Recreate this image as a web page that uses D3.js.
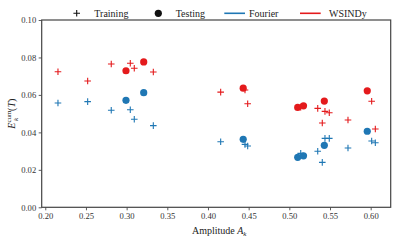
<!DOCTYPE html>
<html><head><meta charset="utf-8">
<script src="https://cdn.jsdelivr.net/npm/d3@7"></script>
<style>body{margin:0;background:#fff}svg{display:block}</style>
</head><body><svg id="c" width="397" height="240"></svg>
<script>
const trainA = [0.2156,0.2521,0.2811,0.3045,0.3094,0.3328,0.4156,0.4455,0.4488,0.5140,0.5349,0.5405,0.5438,0.5491,0.5721,0.6012,0.6057];
const trainWSINDy = [0.0724,0.0674,0.0765,0.0769,0.0742,0.0722,0.0615,0.0626,0.0553,0.0535,0.0528,0.0450,0.0512,0.0505,0.0466,0.0566,0.0418];
const trainFourier = [0.0557,0.0564,0.0518,0.0521,0.0470,0.0436,0.0350,0.0336,0.0327,0.0288,0.0299,0.0240,0.0368,0.0368,0.0317,0.0354,0.0345];
const testA = [0.2992,0.3210,0.4433,0.5103,0.5174,0.5430,0.5958];
const testWSINDy = [0.0729,0.0776,0.0636,0.0533,0.0542,0.0567,0.0622];
const testFourier = [0.0571,0.0612,0.0363,0.0267,0.0275,0.0331,0.0406];
const xTicks = [0.20,0.25,0.30,0.35,0.40,0.45,0.50,0.55,0.60];
const yTicks = [0.00,0.02,0.04,0.06,0.08,0.10];
const colFourier = "#1f77b4", colWSINDy = "#e41a1c";
const FONT = "Liberation Serif";

const svg = d3.select("#c");
const L = 41.7, R = 390.7, T = 20, B = 207.3;
const x = d3.scaleLinear().domain([0.1956, 0.6246]).range([L, R]);
const y = d3.scaleLinear().domain([0, 0.1]).range([B, T]);

const gx = svg.append("g").attr("transform", `translate(0,${B})`)
  .call(d3.axisBottom(x).tickValues(xTicks).tickFormat(d3.format(".2f")).tickSize(3).tickPadding(2.5));
const gy = svg.append("g").attr("transform", `translate(${L},0)`)
  .call(d3.axisLeft(y).tickValues(yTicks).tickFormat(d3.format(".2f")).tickSize(3).tickPadding(2.5));
[gx, gy].forEach(g => {
  g.attr("font-family", FONT);
  g.select(".domain").remove();
  g.selectAll("line").attr("stroke", "#333").attr("stroke-width", 0.8);
  g.selectAll("text").attr("font-size", 8.6).attr("font-family", FONT).attr("fill", "#333");
});
svg.append("rect").attr("x", L).attr("y", T).attr("width", R - L).attr("height", B - T)
  .attr("fill", "none").attr("stroke", "#444").attr("stroke-width", 1.2);

function plus(g, data, color) {
  const s = 3.3;
  g.selectAll(null).data(data).enter().append("path")
    .attr("d", d => `M${x(d[0]) - s},${y(d[1])}H${x(d[0]) + s}M${x(d[0])},${y(d[1]) - s}V${y(d[1]) + s}`)
    .attr("stroke", color).attr("stroke-width", 1.1).attr("fill", "none");
}
function dots(g, data, color) {
  g.selectAll(null).data(data).enter().append("circle")
    .attr("cx", d => x(d[0])).attr("cy", d => y(d[1])).attr("r", 3.6).attr("fill", color);
}
const pg = svg.append("g");
plus(pg, trainA.map((a, i) => [a, trainFourier[i]]), colFourier);
plus(pg, trainA.map((a, i) => [a, trainWSINDy[i]]), colWSINDy);
dots(pg, testA.map((a, i) => [a, testFourier[i]]), colFourier);
dots(pg, testA.map((a, i) => [a, testWSINDy[i]]), colWSINDy);

function txt(g, size) { return g.append("text").attr("font-family", FONT).attr("font-size", size).attr("fill", "#222"); }

// legend
const lg = svg.append("g");
const ly = 13.3;
lg.append("path").attr("d", `M${76.7-3.3},${ly}H${76.7+3.3}M76.7,${ly-3.3}V${ly+3.3}`).attr("stroke", "#111").attr("stroke-width", 1.1);
txt(lg, 10).attr("x", 94.3).attr("y", ly + 3.4).text("Training");
lg.append("circle").attr("cx", 158.3).attr("cy", ly).attr("r", 3.6).attr("fill", "#111");
txt(lg, 10).attr("x", 175.7).attr("y", ly + 3.4).text("Testing");
lg.append("line").attr("x1", 224.3).attr("x2", 245).attr("y1", ly).attr("y2", ly).attr("stroke", colFourier).attr("stroke-width", 1.6);
txt(lg, 10).attr("x", 249).attr("y", ly + 3.4).text("Fourier");
lg.append("line").attr("x1", 300).attr("x2", 320.7).attr("y1", ly).attr("y2", ly).attr("stroke", colWSINDy).attr("stroke-width", 1.6);
txt(lg, 10).attr("x", 329).attr("y", ly + 3.4).text("WSINDy");

// axis labels
const xl = txt(svg, 10).attr("x", (L + R) / 2 + 3).attr("y", 234).attr("text-anchor", "middle");
xl.append("tspan").text("Amplitude ");
xl.append("tspan").attr("font-style", "italic").text("A");
xl.append("tspan").attr("font-style", "italic").attr("dy", 2).attr("font-size", 7).text("k");

const yl = txt(svg, 10).attr("transform", `translate(15,${(T + B) / 2}) rotate(-90)`).attr("text-anchor", "middle");
yl.append("tspan").attr("font-style", "italic").text("E");
yl.append("tspan").attr("dy", -4).attr("font-size", 7).text("cum");
yl.append("tspan").attr("dx", -10.5).attr("dy", 6.5).attr("font-style", "italic").attr("font-size", 7).text("k");
yl.append("tspan").attr("dx", 7).attr("dy", -2.5).text("(");
yl.append("tspan").attr("font-style", "italic").text("T");
yl.append("tspan").text(")");
</script></body></html>
